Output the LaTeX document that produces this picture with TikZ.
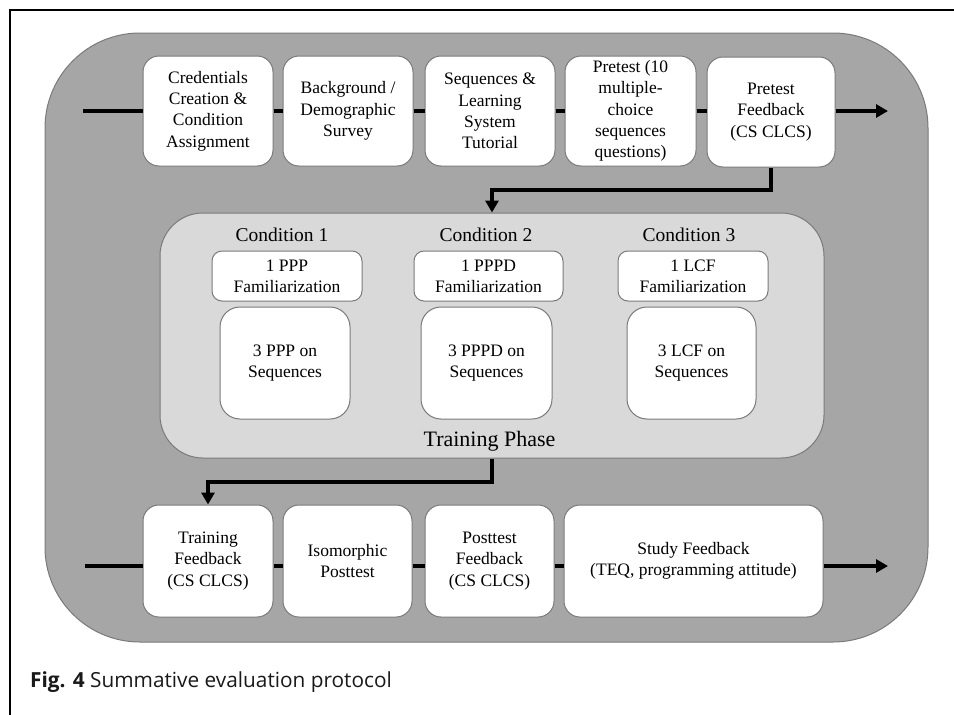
\documentclass[tikz,border=0pt]{standalone}
\usepackage{fontspec}
\setmainfont{Liberation Serif}
\newfontfamily\capfont{Open Sans}
\usetikzlibrary{arrows.meta}
\definecolor{outergray}{HTML}{A6A6A6}
\definecolor{innergray}{HTML}{D9D9D9}
\definecolor{edgegray}{HTML}{7A7A7A}
\begin{document}
\begin{tikzpicture}[x=1pt,y=-1pt,
  box/.style={draw=edgegray, line width=1pt, fill=white, rounded corners=16pt, align=center, inner sep=0pt, font=\fontsize{17.5}{21.3}\selectfont},
  fambox/.style={box, rounded corners=10pt, minimum width=150pt, minimum height=50pt},
  seqbox/.style={box, rounded corners=20pt, minimum width=130pt, minimum height=112pt},
  toprow/.style={box, minimum height=110pt},
  botrow/.style={box, minimum height=112pt},
  condlabel/.style={inner sep=0pt, font=\fontsize{19.5}{23}\selectfont},
  conn/.style={line width=3.8pt, black},
  arr/.style={conn, -{Triangle[length=12pt,width=13pt]}},
]
\useasboundingbox (0,0) rectangle (954,715);
\draw[line width=2pt] (10,715) -- (10,10) -- (954,10);
% outer gray area
\node[fill=outergray, draw=edgegray, line width=1pt, rounded corners=95pt, minimum width=883pt, minimum height=609pt, inner sep=0pt] (outer) at (486.5,337.5) {};
% connector coordinates
\coordinate (ts) at (83,111);
\coordinate (te) at (888,111);
\coordinate (bs) at (85,566);
\coordinate (be) at (888,566);
\coordinate (m1) at (0,190);
\coordinate (m2) at (0,482);
% top row
\node[toprow, minimum width=130pt] (t1) at (208,111) {Credentials\\Creation \&\\Condition\\Assignment};
\node[toprow, minimum width=130pt] (t2) at (348,111) {Background /\\Demographic\\Survey};
\node[toprow, minimum width=130pt] (t3) at (490,111) {Sequences \&\\Learning\\System\\Tutorial};
\node[toprow, minimum width=131pt] (t4) at (630.5,111) {Pretest (10\\multiple-\\choice\\sequences\\questions)};
\node[toprow, minimum width=128pt] (t5) at (771,112) {Pretest\\Feedback\\(CS CLCS)};
\draw[conn] (ts) -- (t1.west |- ts);
\draw[conn] (t1.east |- ts) -- (t2.west |- ts);
\draw[conn] (t2.east |- ts) -- (t3.west |- ts);
\draw[conn] (t3.east |- ts) -- (t4.west |- ts);
\draw[conn] (t4.east |- ts) -- (t5.west |- ts);
\draw[arr] (t5.east |- ts) -- (te);
% training phase
\node[fill=innergray, draw=edgegray, line width=1pt, rounded corners=43pt, minimum width=664pt, minimum height=245pt, inner sep=0pt] (tp) at (492,335.5) {};
\node[condlabel] (c1) at (282,235) {Condition 1};
\node[condlabel] (c2) at (486,235) {Condition 2};
\node[condlabel] (c3) at (689,235) {Condition 3};
\node[fambox] (f1) at (287,276) {1 PPP\\Familiarization};
\node[fambox, minimum width=149pt] (f2) at (488.5,276) {1 PPPD\\Familiarization};
\node[fambox] (f3) at (693,276) {1 LCF\\Familiarization};
\node[seqbox] (s1) at (285,363) {3 PPP on\\Sequences};
\node[seqbox, minimum width=131pt] (s2) at (486.5,363) {3 PPPD on\\Sequences};
\node[seqbox, minimum width=129pt] (s3) at (691.5,363) {3 LCF on\\Sequences};
\node[inner sep=0pt, font=\fontsize{22}{26}\selectfont] (tpl) at (489.5,441) {Training Phase};
% bottom row
\node[botrow, minimum width=130pt] (b1) at (208,561) {Training\\Feedback\\(CS CLCS)};
\node[botrow, minimum width=129pt] (b2) at (347.5,561) {Isomorphic\\Posttest};
\node[botrow, minimum width=129pt] (b3) at (489.5,561) {Posttest\\Feedback\\(CS CLCS)};
\node[botrow, minimum width=259pt] (b4) at (693.5,561) {Study Feedback\\(TEQ, programming attitude)};
\draw[conn] (bs) -- (b1.west |- bs);
\draw[conn] (b1.east |- bs) -- (b2.west |- bs);
\draw[conn] (b2.east |- bs) -- (b3.west |- bs);
\draw[conn] (b3.east |- bs) -- (b4.west |- bs);
\draw[arr] (b4.east |- bs) -- (be);
% vertical connectors
\draw[arr] (t5.south) -- (t5.south |- m1) -| (tp.north);
\draw[arr] (tp.south) -- (tp.south |- m2) -| (b1.north);
% caption
\node[anchor=base west, inner sep=0pt, text=black!90, font=\capfont\fontsize{20.8}{24}\selectfont] (cap) at (30,687) {\textbf{Fig. 4} Summative evaluation protocol};
\end{tikzpicture}
\end{document}
